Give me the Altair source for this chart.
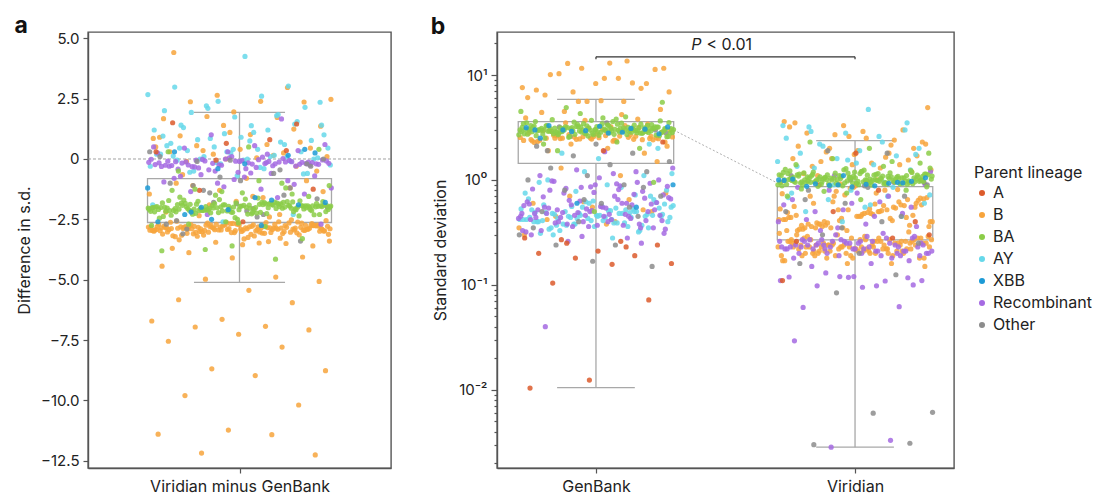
import altair as alt
import pandas as pd

FONT = "Inter"
LINEAGES = ["A", "B", "BA", "AY", "XBB", "Recombinant", "Other"]
COLORS = ["#dc5b2b", "#f7a43c", "#8bcd48", "#66d8ea", "#1c9ad6", "#a56ae2", "#8c8c8c"]

# ---------------- panel a : Viridian minus GenBank (difference in s.d.) ----------------
a_B_band = [-2.85,-2.72,-2.96,-3.05,-2.78,-2.91,-2.66,-2.88,-3.12,-2.81,-2.94,-2.70,-2.99,-2.84,-3.20,-2.75,-2.90,-2.62,-3.01,-2.87,
            -2.79,-2.93,-3.08,-2.83,-2.68,-2.97,-2.86,-3.15,-2.74,-2.89,-2.58,-3.03,-2.82,-2.95,-2.77,-3.10,-2.91,-2.69,-2.84,-3.28,
            -2.80,-2.98,-2.73,-2.88,-3.06,-2.64,-2.92,-2.85,-3.00,-2.76,-2.95,-3.18,-2.83,-2.71,-2.89,-3.02,-2.79,-2.94,-2.67,-3.11,
            -2.86,-2.74,-2.99,-2.81,-3.35,-2.90,-2.78,-2.96,-2.63,-3.04,-2.87,-2.72,-2.93,-3.09,-2.84,-2.55,-2.98,-2.80,-3.14,-2.88,
            -2.70,-2.92,-3.01,-2.77,-2.85,-3.22,-2.65,-2.94,-2.82,-3.07,-2.89,-2.75,-2.97,-2.84,-2.60,-3.03,-2.91,-2.79,-3.16,-2.86,
            -2.73,-2.95,-3.42,-2.83,-2.68,-3.00,-2.88,-2.76,-2.93,-3.12,-2.81,-2.90,-2.66,-3.05,-2.85,-2.71,-2.96,-2.78,-3.25,-2.87,
            -2.52,-2.94,-2.82,-3.08,-2.79,-2.91,-2.69,-3.02,-2.86,-2.74,-2.98,-3.19,-2.83,-2.61,-2.92,-2.80,-3.04,-2.89,-2.75,-3.31]
a_B_spread = [4.41,2.96,2.64,2.47,2.39,2.37,2.36,1.95,1.67,1.72,1.76,1.36,1.01,0.96,1.24,1.39,0.85,0.60,0.55,0.45,
              0.40,0.30,0.25,0.20,0.10,0.05,-0.10,0.70,1.10,0.90,0.15,0.35,-0.50,-0.80,-1.00,-1.20,-1.30,-1.45,-1.60,-1.10,
              -0.90,-1.75,-2.20,-2.30,-1.90,-1.35,-1.55,-0.65,-0.30,0.00,0.50,-2.40,-2.35,-3.60,-3.55,-3.70,-3.50,-3.45,-3.40,-3.48]
a_B_low = [-3.88,-4.06,-4.10,-4.44,-4.89,-4.98,-5.07,-5.44,-5.83,-5.95,-6.64,-6.71,-6.93,-6.96,-7.08,-7.26,-7.55,-7.79,
           -8.69,-8.77,-8.97,-9.80,-10.19,-11.23,-11.40,-11.42,-12.18,-12.26]
a_BA_band = [-2.00,-1.88,-2.12,-1.95,-2.21,-1.82,-2.05,-1.97,-2.30,-1.91,-2.08,-1.78,-2.15,-2.02,-1.86,-2.25,-1.99,-2.10,-1.72,-2.04,
             -1.93,-2.18,-2.01,-1.84,-2.36,-1.96,-2.09,-1.89,-2.13,-1.98,-1.66,-2.06,-1.92,-2.22,-2.03,-1.80,-2.16,-1.94,-2.43,-2.00,
             -1.87,-2.11,-1.97,-2.27,-1.83,-2.07,-1.90,-2.19,-2.02,-1.75,-2.14,-1.95,-2.33,-1.99,-1.85,-2.09,-1.62,-2.05,-1.93,-2.20,
             -2.01,-1.79,-2.12,-1.96,-2.28,-1.89,-2.04,-1.98,-2.17,-1.81,-2.08,-1.94,-2.50,-2.03,-1.86,-2.23,-1.91,-2.10,-1.70,-2.00,
             -2.15,-1.97,-1.84,-2.06,-2.31,-1.92,-2.13,-1.77,-2.02,-1.95,-2.21,-1.88,-2.07,-1.99,-2.38,-1.83,-2.11,-1.94,-2.04,-1.58,
             -2.18,-1.90,-2.01,-2.26,-1.87,-2.09,-1.96,-2.14,-1.80,-2.03,-1.93,-2.24,-1.98,-1.73,-2.06,-2.45,-1.91,-2.12,-1.85,-2.00,
             -2.19,-1.95,-1.68,-2.08,-1.89,-2.29,-2.02,-1.82,-2.16,-1.97,-2.05,-1.76,-2.22,-1.92,-2.10,-2.60,-1.99,-1.86,-2.13,-1.94]
a_BA_spread = [-1.40,-1.30,-1.20,-1.50,-1.10,-0.90,-2.70,-3.30,-3.60,-3.80,-4.15,-3.75,0.40,0.50,-0.50,-1.45,-1.35,-2.75,
               -2.80,-1.25,-1.55,-2.65,0.30,-1.00]
a_Rec_band = [-0.15,-0.05,-0.25,-0.10,-0.30,0.02,-0.18,-0.08,-0.35,-0.12,-0.22,0.05,-0.16,-0.28,-0.02,-0.20,-0.40,-0.11,-0.06,-0.24,
              -0.14,0.08,-0.32,-0.19,-0.09,-0.26,-0.13,-0.45,-0.04,-0.21,-0.17,-0.29,0.00,-0.23,-0.10,-0.37,-0.15,-0.07,-0.27,-0.12,
              -0.50,-0.18,-0.03,-0.25,-0.14,0.10,-0.31,-0.20,-0.08,-0.22,-0.16,-0.42,-0.11,-0.26,-0.01,-0.19,-0.33,-0.13,-0.55,-0.09]
a_Rec_spread = [1.66,1.00,0.60,0.55,0.45,0.35,0.30,0.25,-0.60,-0.65,-0.70,-0.75,-0.80,-0.90,-1.00,-1.20,-1.25,-1.35,-1.45,
                -0.85,-0.95,-1.60,-2.30,-2.70,-0.58,-0.72,-1.05,-1.15,0.50,0.20]
a_AY = [4.25,2.98,3.02,2.39,2.67,2.60,1.93,2.14,1.74,2.00,1.84,2.10,1.40,1.38,1.40,1.45,1.05,1.20,1.20,0.80,
        0.77,0.90,0.65,0.60,0.50,0.45,0.40,0.35,0.30,0.25,0.20,0.15,0.10,0.05,0.00,-0.05,-0.10,-0.20,-0.30,-0.40,
        -0.50,-0.60,-0.70,0.55,0.70,0.85,1.00,1.10,1.30,1.55,0.30,0.20,0.10,0.00,0.00,-0.05,0.12,0.08,-0.15,-0.25,
        -0.35,-0.55,-0.62,0.40,0.95,1.80,2.20,2.35,0.75,0.45,-2.30,-2.60,-1.90]
a_XBB = [-2.50,-1.80,-1.60,-2.30,-1.90,-2.10,-2.60,-1.70,-2.00,0.25,-0.20,0.30,0.15,-0.40,-1.20,-2.75,-2.20,0.40]
a_Other = [-0.10,-0.30,-0.90,-1.00,-1.50,-1.80,-2.00,-2.40,-2.90,-3.40,-0.05,0.10,-0.60,-1.30,-1.65,-2.15,-2.55,-1.20,
           -0.75,0.30,-2.30,-1.10,-0.20,-1.85,-2.70,-0.45,-1.40,0.00,-2.05,-3.10]
a_A = [1.45,0.65,0.30,0.80,-1.30,-1.25,-2.60,1.50,0.35,-0.05]

# box statistics, panel a
a_q1, a_q3, a_lo, a_hi = -2.63, -0.81, -5.11, 1.93
A_YTICKS = [5, 2.5, 0, -2.5, -5, -7.5, -10, -12.5]
A_XLABEL = "Viridian minus GenBank"

# ---------------- panel b : standard deviation, GenBank vs Viridian ----------------
GROUPS = ["GenBank", "Viridian"]
gb_BA = [3.0,2.8,3.2,2.9,3.4,2.7,3.1,3.0,3.6,2.85,3.15,2.6,3.3,2.95,3.05,2.75,3.5,2.9,3.1,2.65,
         3.25,2.98,2.82,3.38,3.02,2.72,3.12,2.92,3.7,2.88,3.18,2.55,3.08,2.96,3.28,2.78,3.0,3.45,2.86,3.14,
         2.68,3.22,2.94,3.04,3.55,2.8,3.1,2.9,3.32,2.62,3.06,2.98,3.2,2.84,3.42,2.74,3.16,2.93,3.0,3.8,
         2.87,3.11,2.7,3.26,2.97,3.07,2.58,3.35,2.91,3.13,2.79,3.03,3.48,2.89,3.19,2.66,3.01,2.95,3.24,2.83,
         3.6,2.76,3.09,2.99,3.3,2.71,3.15,2.92,3.05,2.5,3.4,2.86,3.17,2.97,2.77,3.21,3.02,2.64,3.12,2.94,
         3.52,2.81,3.08,2.9,3.27,2.73,3.14,3.0,3.65,2.85,3.1,2.96,3.23,2.69,3.04,2.88,3.37,2.79,3.16,2.93,
         2.6,3.06,2.98,3.29,2.83,3.44,2.75,3.11,2.91,3.19,2.87,3.01,3.33,2.72,3.09,2.95,3.75,2.84,3.13,2.99,
         4.0,4.9,5.5,3.9,2.2,2.0,4.3,4.5,2.3,1.9,0.95,0.5]
gb_B = [2.4,2.5,2.6,2.45,2.35,2.55,2.7,2.3,2.65,2.5,2.42,2.58,2.38,2.62,2.48,2.52,2.75,2.33,2.44,2.56,
        3.0,3.2,2.9,3.4,3.1,2.8,3.3,3.5,2.85,3.05,2.95,3.15,2.46,2.54,2.36,2.64,2.41,2.59,2.28,2.68,
        2.2,2.1,2.0,1.9,1.8,3.7,3.9,4.2,2.5,2.47,2.53,2.39,2.61,2.44,2.57,2.34,2.66,2.49,2.51,2.43,
        13.6,12.9,11.6,9.3,6.45,7.46,11.6,7.6,9.3,10.3,11.3,8.3,7.2,8.4,6.9,6.9,13.0,10.1,8.3,5.6,
        6.1,5.6,4.5,4.7,5.7,4.4,3.8,5.6,
        0.35,0.4,0.45,0.5,0.55,0.6,0.65,0.7,0.75,0.38,0.42,0.52,0.62,0.3,1.1,1.3,1.5]
gb_AY = [0.45,0.40,0.50,0.38,0.55,0.42,0.48,0.35,0.60,0.44,0.52,0.37,0.47,0.41,0.58,0.33,0.46,0.53,0.39,0.43,
         0.65,0.36,0.49,0.44,0.56,0.40,0.51,0.34,0.45,0.62,0.42,0.48,0.38,0.54,0.46,0.31,0.50,0.43,0.57,0.39,
         0.47,0.70,0.41,0.52,0.36,0.45,0.59,0.44,0.49,0.37,0.55,0.42,0.48,0.33,0.61,0.46,0.40,0.53,0.38,0.44,
         0.51,0.35,0.47,0.43,0.66,0.39,0.50,0.45,0.56,0.41,0.32,0.48,0.42,0.54,0.37,0.46,0.63,0.40,0.49,0.44,
         0.8,0.9,1.0,1.1,1.2,0.75,0.85,1.8,2.0,1.6,0.95,0.72,0.78,1.15,0.28,0.3,2.2]
gb_Rec = [0.50,0.42,0.60,0.38,0.72,0.45,0.55,0.35,0.85,0.48,0.65,0.40,0.52,0.90,0.44,0.58,0.36,0.68,0.47,0.80,
          0.41,0.53,0.62,0.37,0.75,0.46,0.56,0.33,0.95,0.49,0.43,0.70,0.39,0.59,0.51,0.82,0.45,0.64,0.34,0.54,
          0.48,0.78,0.40,0.57,0.88,0.44,0.61,0.37,0.52,0.73,0.46,0.66,0.42,0.98,0.50,0.36,0.59,0.47,0.83,0.41,
          0.55,0.69,0.38,0.63,0.45,0.92,0.52,0.35,0.76,0.48,0.43,0.58,0.87,0.40,0.54,0.67,0.46,0.32,0.60,0.49,
          1.0,1.05,1.1,1.2,1.25,1.3,1.15,0.97,0.93,0.86,0.3,0.28,0.26,0.31,1.86,0.04,0.25,0.29,0.33,0.81]
gb_XBB = [3.0,3.1,2.9,3.2,2.8,3.3,3.05,2.95,3.15,2.85,3.0,2.75,3.25,2.5,0.55,0.6,0.9]
gb_Other = [3.2,3.0,2.2,2.1,1.8,1.7,1.5,1.4,1.3,1.2,1.1,1.0,0.9,0.8,0.7,0.6,0.5,0.45,0.4,0.3,
            0.24,0.24,0.15,0.168,0.35,0.55,2.6,2.8,3.5,1.9,0.85,0.65]
gb_A = [0.28,0.26,0.27,0.24,0.21,0.2,0.19,0.18,0.16,0.157,0.104,0.072,0.0124,0.0104,0.23,0.25,2.3,1.9]

vi_BA = [1.02,0.95,1.10,0.98,1.15,0.92,1.05,1.00,1.20,0.96,1.08,0.90,1.12,1.01,0.97,1.18,0.94,1.06,1.03,0.88,
         1.14,0.99,1.07,0.93,1.25,1.00,1.04,0.91,1.11,0.97,1.09,0.95,1.16,1.02,0.89,1.13,0.98,1.06,1.22,0.94,
         1.01,1.08,0.96,1.17,0.92,1.03,1.10,0.99,0.87,1.05,1.19,0.95,1.07,1.00,1.12,0.93,1.04,0.98,1.28,0.91,
         1.09,1.02,0.97,1.15,0.94,1.06,1.01,0.90,1.11,0.96,1.23,1.03,0.99,1.08,0.92,1.14,1.00,0.95,1.05,0.88,
         1.18,0.97,1.07,1.02,0.93,1.12,0.98,1.04,1.30,0.96,1.09,0.91,1.16,1.01,0.94,1.06,0.99,1.21,0.89,1.03,
         1.10,0.95,1.13,1.00,0.92,1.08,0.97,1.17,1.04,0.86,1.11,0.98,1.05,0.94,1.26,1.02,0.96,1.07,0.90,1.14,
         1.01,0.93,1.09,0.99,1.19,0.95,1.06,1.03,0.91,1.12,0.97,1.24,1.00,0.94,1.08,0.88,1.15,1.02,0.96,1.05,
         1.4,1.5,1.6,1.8,2.0,2.3,0.8,0.75,0.7,1.35,0.78,1.45,0.65,0.82]
vi_B = [0.23,0.21,0.25,0.19,0.27,0.22,0.24,0.18,0.29,0.20,0.26,0.23,0.17,0.28,0.21,0.24,0.22,0.30,0.19,0.25,
        0.23,0.20,0.27,0.22,0.16,0.26,0.24,0.21,0.28,0.23,0.19,0.25,0.22,0.31,0.20,0.24,0.26,0.18,0.23,0.27,
        0.21,0.25,0.22,0.29,0.20,0.24,0.17,0.26,0.23,0.28,0.21,0.22,0.25,0.19,0.27,0.24,0.20,0.32,0.23,0.26,
        0.22,0.18,0.25,0.21,0.28,0.24,0.23,0.19,0.26,0.20,0.27,0.22,0.25,0.16,0.24,0.29,0.21,0.23,0.26,0.20,
        0.33,0.22,0.25,0.18,0.27,0.24,0.21,0.30,0.23,0.26,0.19,0.22,0.28,0.25,0.20,0.24,0.15,0.27,0.23,0.21,
        0.35,0.42,0.50,0.38,0.60,0.45,0.33,0.55,0.70,0.40,0.48,0.36,0.65,0.52,0.44,0.80,0.37,0.58,0.47,0.34,
        0.62,0.41,0.53,0.75,0.39,0.46,0.85,0.56,0.43,0.35,0.68,0.49,0.38,0.57,0.72,0.42,0.51,0.36,0.64,0.45,
        0.34,0.54,0.78,0.40,0.47,0.60,0.37,0.83,0.44,0.52,0.39,0.66,0.48,0.35,0.58,0.43,0.74,0.50,0.38,0.55,
        0.88,0.46,0.41,0.62,0.36,0.53,0.70,0.44,0.33,0.49,0.57,0.40,0.67,0.45,0.37,0.81,0.52,0.42,0.59,0.35,
        1.2,1.4,1.6,1.8,2.0,2.2,2.5,2.8,3.0,3.3,3.6,1.3,1.5,1.7,1.9,2.1,2.4,2.7,1.25,1.45,
        1.35,1.55,2.6,3.2,1.65,1.85,2.3,2.9,1.15,1.4,0.92,0.95,1.0,1.1,2.0,1.75,3.5,2.15,1.6,4.9]
vi_AY = [4.7,3.2,3.0,2.8,2.5,2.3,2.1,2.0,1.9,1.8,1.7,1.6,1.5,1.4,1.3,1.25,0.8,0.75,0.7,0.65,
         0.6,0.55,0.5,0.45,0.4,3.3,2.6,2.2,1.75,1.45,1.35,0.85,0.9,0.72,0.58,2.9,3.5,1.55,0.68,0.95]
vi_Rec = [0.22,0.25,0.20,0.27,0.23,0.19,0.26,0.21,0.24,0.28,0.22,0.18,0.25,0.23,0.20,0.29,0.24,0.21,0.26,0.22,
          0.19,0.27,0.23,0.25,0.20,0.24,0.30,0.21,0.26,0.22,0.17,0.25,0.23,0.28,0.20,0.24,0.22,0.26,0.19,0.27,
          0.23,0.21,0.25,0.29,0.22,0.24,0.18,0.26,0.20,0.23,0.27,0.21,0.25,0.22,0.31,0.24,0.19,0.26,0.23,0.20,
          0.35,0.4,0.45,0.5,0.55,0.6,0.65,0.7,0.8,0.9,0.38,0.42,0.48,0.52,0.58,0.62,0.33,0.36,0.75,0.85,
          0.95,1.1,1.2,0.16,0.15,0.117,0.118,0.119,0.109,0.13,0.11,0.095,0.061,0.062,0.12,0.11,0.098,0.098,0.1,0.12,
          0.0293,0.0033,0.00284]
vi_XBB = [0.95,0.9,1.0,0.88,0.92,0.97,0.86,1.02,0.93,0.89,1.05,0.91,0.87,0.94,1.1,0.99]
vi_Other = [0.9,0.85,0.8,0.7,0.6,0.5,0.4,0.3,0.25,0.2,0.16,0.125,0.084,0.0061,0.006,0.003,0.0031,1.0,1.1,1.8,
            1.9,0.95,0.88,0.65,0.45,0.35]
vi_A = [0.11,0.8,0.9,0.4,1.8,0.26,0.28,0.5,0.3]

# box statistics, panel b (GenBank, Viridian)
b_q1 = [1.44, 0.268]
b_q3 = [3.59, 0.863]
b_lo = [0.0105, 0.00284]
b_hi = [5.87, 2.37]
b_med = [2.99, 0.936]
B_YTICKS = [0.01, 0.1, 1, 10]
P_LABEL = ["P", "< 0.01"]
P_LEVEL = [14.9, 14.1, 17.3]   # bracket line, bracket tick ends, text baseline

# ---------------- tables ----------------
rows_a = []
for lin, vals in [("B", a_B_band + a_B_spread + a_B_low), ("AY", a_AY), ("Recombinant", a_Rec_band + a_Rec_spread),
                  ("Other", a_Other), ("A", a_A), ("BA", a_BA_band + a_BA_spread), ("XBB", a_XBB)]:
    rows_a += [{"lineage": lin, "diff": v} for v in vals]
dfa = pd.DataFrame(rows_a)

rows_b = []
for g, gi, sets in [("GenBank", 0, [("B", gb_B), ("AY", gb_AY), ("Recombinant", gb_Rec), ("Other", gb_Other),
                                    ("A", gb_A), ("BA", gb_BA), ("XBB", gb_XBB)]),
                    ("Viridian", 1, [("B", vi_B), ("AY", vi_AY), ("Recombinant", vi_Rec), ("Other", vi_Other),
                                     ("A", vi_A), ("BA", vi_BA), ("XBB", vi_XBB)])]:
    for lin, vals in sets:
        rows_b += [{"group": g, "gi": gi, "lineage": lin, "sd": v} for v in vals]
dfb = pd.DataFrame(rows_b)

df_abox = pd.DataFrame({"q1": [a_q1], "q3": [a_q3], "lo": [a_lo], "hi": [a_hi]})
df_bbox = pd.DataFrame({"group": GROUPS, "gi": [0, 1], "q1": b_q1, "q3": b_q3, "lo": b_lo, "hi": b_hi, "med": b_med})
df_br = pd.DataFrame({"x0": [0], "x1": [1], "yl": [P_LEVEL[0]], "yt": [P_LEVEL[1]], "ytxt": [P_LEVEL[2]]})

# ---------------- shared encodings ----------------
BOXC = "#a8a8a8"
PH = 436  # plot height
PT_SIZE = 27
legend = alt.Legend(title="Parent lineage", orient="none", legendX=886, legendY=133, symbolType="circle",
                    symbolSize=36, symbolOpacity=1, labelFontSize=16, titleFontSize=16, titleFontWeight="normal",
                    rowPadding=6, titlePadding=4, labelOffset=3)
color = alt.Color("lineage:N", scale=alt.Scale(domain=LINEAGES, range=COLORS), legend=legend)

# ---------------- panel a ----------------
xa_scale = alt.Scale(domain=[-1.647, 1.647], nice=False, zero=False)
ya_scale = alt.Scale(domain=[-12.80, 5.26], nice=False, zero=False)
xa_axis = alt.Axis(values=[0], labelExpr=f"'{A_XLABEL}'", title=None, labelFontSize=16, labelPadding=5)
ya_axis = alt.Axis(values=A_YTICKS, labelExpr="datum.value == 0 ? '0' : format(datum.value, '.1f')",
                   title="Difference in s.d.", titlePadding=8)

pts_a = alt.Chart(dfa).transform_window(idx="row_number()").transform_calculate(
    jit="((datum.idx * 0.6180339887) % 1) * 2 - 1"
).mark_circle(size=PT_SIZE, opacity=0.85).encode(
    x=alt.X("jit:Q", scale=xa_scale, axis=xa_axis),
    y=alt.Y("diff:Q", scale=ya_scale, axis=ya_axis),
    color=color,
)
abase = alt.Chart(df_abox)
zero_a = abase.mark_rule(color="#8a8a8a", strokeDash=[3, 2], strokeWidth=0.8).encode(y=alt.datum(0))
box_a = abase.mark_rect(fillOpacity=0, stroke=BOXC, strokeWidth=1.3).encode(
    x=alt.datum(-1), x2=alt.datum(1), y=alt.Y("q1:Q", axis=ya_axis), y2="q3:Q")
wh_a1 = abase.mark_rule(color=BOXC, strokeWidth=1.3).encode(x=alt.datum(0), y=alt.Y("q3:Q", axis=ya_axis), y2="hi:Q")
wh_a2 = abase.mark_rule(color=BOXC, strokeWidth=1.3).encode(x=alt.datum(0), y=alt.Y("lo:Q", axis=ya_axis), y2="q1:Q")
cap_a1 = abase.mark_rule(color=BOXC, strokeWidth=1.3).encode(x=alt.datum(-0.495), x2=alt.datum(0.495), y=alt.Y("hi:Q", axis=ya_axis))
cap_a2 = abase.mark_rule(color=BOXC, strokeWidth=1.3).encode(x=alt.datum(-0.495), x2=alt.datum(0.495), y=alt.Y("lo:Q", axis=ya_axis))

panel_a = alt.layer(zero_a, box_a, wh_a1, wh_a2, cap_a1, cap_a2, pts_a).properties(
    width=303, height=PH,
    title=alt.TitleParams("a", anchor="start", frame="bounds", fontSize=23, fontWeight="bold", offset=-7, dx=-2),
)

# ---------------- panel b ----------------
xb_scale = alt.Scale(domain=[-0.382, 1.382], nice=False, zero=False)
yb_scale = alt.Scale(type="log", domain=[0.0018, 25.7], nice=False)
xb_axis = alt.Axis(values=[0, 1], labelExpr="datum.value < 0.5 ? 'GenBank' : 'Viridian'", title=None,
                   labelFontSize=16, labelPadding=5)
yb_axis = alt.Axis(values=B_YTICKS, orient="left",
                   labelExpr="datum.value >= 5 ? '10¹' : datum.value >= 0.5 ? '10⁰' : datum.value >= 0.05 ? '10⁻¹' : '10⁻²'",
                   title="Standard deviation", titlePadding=10, tickSize=6)
MINOR = [k * 10.0 ** e for e in range(-3, 2) for k in range(2, 10) if 0.0018 <= k * 10.0 ** e <= 25.7]
yb_minor = alt.Axis(values=MINOR, orient="left", labels=False, title=None, domain=False, tickSize=3)

pts_b = alt.Chart(dfb).transform_window(idx="row_number()", groupby=["group"]).transform_calculate(
    xp="datum.gi + 0.30 * (((datum.idx * 0.6180339887) % 1) * 2 - 1)"
).mark_circle(size=PT_SIZE, opacity=0.85).encode(
    x=alt.X("xp:Q", scale=xb_scale, axis=xb_axis),
    y=alt.Y("sd:Q", scale=yb_scale, axis=yb_axis),
    color=color,
)
bbase = alt.Chart(df_bbox).transform_calculate(
    xl="datum.gi - 0.30", xr="datum.gi + 0.30", cl="datum.gi - 0.15", cr="datum.gi + 0.15",
    cx="datum.gi == 0 ? datum.gi + 0.30 : datum.gi - 0.30",
)
box_b = bbase.mark_rect(fillOpacity=0, stroke=BOXC, strokeWidth=1.3).encode(
    x=alt.X("xl:Q", axis=xb_axis), x2="xr:Q", y=alt.Y("q1:Q", axis=yb_minor), y2="q3:Q")
wh_b1 = bbase.mark_rule(color=BOXC, strokeWidth=1.3).encode(
    x=alt.X("gi:Q", axis=xb_axis), y=alt.Y("q3:Q", axis=None), y2="hi:Q")
wh_b2 = bbase.mark_rule(color=BOXC, strokeWidth=1.3).encode(
    x=alt.X("gi:Q", axis=xb_axis), y=alt.Y("lo:Q", axis=None), y2="q1:Q")
cap_b1 = bbase.mark_rule(color=BOXC, strokeWidth=1.3).encode(
    x=alt.X("cl:Q", axis=xb_axis), x2="cr:Q", y=alt.Y("hi:Q", axis=None))
cap_b2 = bbase.mark_rule(color=BOXC, strokeWidth=1.3).encode(
    x=alt.X("cl:Q", axis=xb_axis), x2="cr:Q", y=alt.Y("lo:Q", axis=None))
conn_b = bbase.mark_line(color="#9a9a9a", strokeDash=[2, 2], strokeWidth=0.8).encode(
    x=alt.X("cx:Q", axis=xb_axis), y=alt.Y("med:Q", axis=None))

brbase = alt.Chart(df_br)
br_h = brbase.mark_rule(color="#333", strokeWidth=1.2).encode(
    x=alt.X("x0:Q", axis=xb_axis), x2="x1:Q", y=alt.Y("yl:Q", axis=None))
br_l = brbase.mark_rule(color="#333", strokeWidth=1.2).encode(
    x=alt.X("x0:Q", axis=xb_axis), y=alt.Y("yt:Q", axis=None), y2="yl:Q")
br_r = brbase.mark_rule(color="#333", strokeWidth=1.2).encode(
    x=alt.X("x1:Q", axis=xb_axis), y=alt.Y("yt:Q", axis=None), y2="yl:Q")
txt_p = brbase.mark_text(text=P_LABEL[0], fontStyle="italic", align="right", baseline="alphabetic",
                         dx=-24, fontSize=16, font=FONT, color="#222").encode(
    x=alt.datum(0.5), y=alt.Y("ytxt:Q", axis=None))
txt_v = brbase.mark_text(text=P_LABEL[1], align="left", baseline="alphabetic",
                         dx=-19, fontSize=16, font=FONT, color="#222").encode(
    x=alt.datum(0.5), y=alt.Y("ytxt:Q", axis=None))

panel_b = alt.layer(box_b, wh_b1, wh_b2, cap_b1, cap_b2, conn_b, pts_b, br_h, br_l, br_r, txt_p, txt_v).resolve_axis(
    y="independent"
).properties(
    width=457, height=PH,
    title=alt.TitleParams("b", anchor="start", frame="bounds", fontSize=23, fontWeight="bold", offset=-7, dx=-2),
)

chart = alt.hconcat(panel_a, panel_b, spacing=37).resolve_scale(color="shared").resolve_legend(color="shared").properties(
    padding={"left": 5, "top": 6, "right": 0, "bottom": 0}
).configure_view(
    stroke="#555555", strokeWidth=1.4
).configure_axis(
    grid=False, domainColor="#555555", domainWidth=1.4, tickColor="#555555", tickWidth=1.2, tickSize=5,
    labelColor="#222", labelFontSize=15, titleFontSize=16, titleColor="#222", titleFontWeight="normal",
    labelFont=FONT, titleFont=FONT, labelPadding=4,
).configure_legend(
    labelFont=FONT, titleFont=FONT, labelColor="#222", titleColor="#222",
).configure_title(font=FONT, color="#111")

chart.save("out.html", embed_options={"renderer": "svg", "actions": False})
